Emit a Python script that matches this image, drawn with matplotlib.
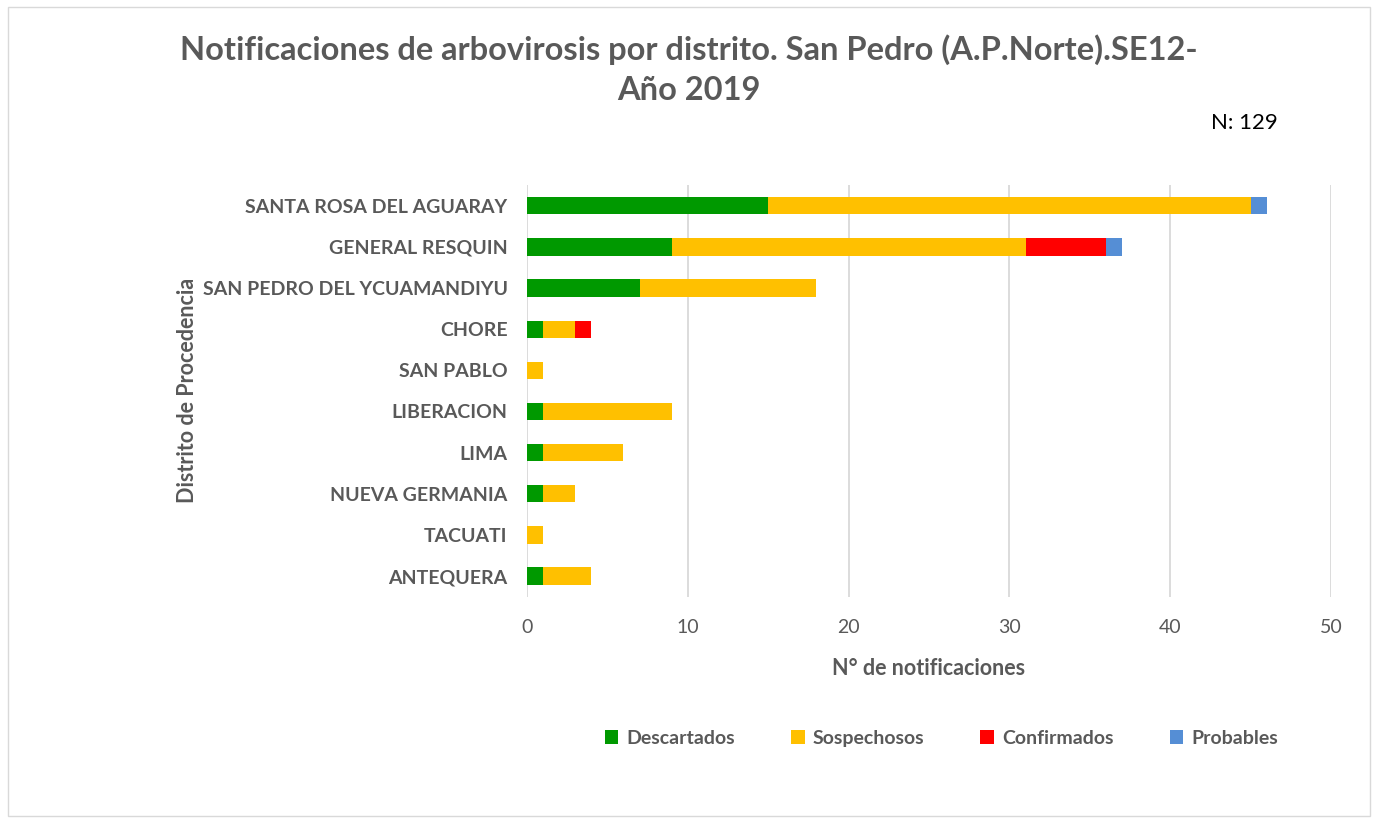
import matplotlib.pyplot as plt
from matplotlib.patches import Rectangle
import numpy as np

# Datos de notificaciones por distrito
distritos = ["SANTA ROSA DEL AGUARAY", "GENERAL RESQUIN", "SAN PEDRO DEL YCUAMANDIYU",
             "CHORE", "SAN PABLO", "LIBERACION", "LIMA", "NUEVA GERMANIA",
             "TACUATI", "ANTEQUERA"]
descartados = [15, 9, 7, 1, 0, 1, 1, 1, 0, 1]
sospechosos = [30, 22, 11, 2, 1, 8, 5, 2, 1, 3]
confirmados = [0, 5, 0, 1, 0, 0, 0, 0, 0, 0]
probables = [1, 1, 0, 0, 0, 0, 0, 0, 0, 0]

series = [("Descartados", descartados, "#009900"),
          ("Sospechosos", sospechosos, "#FFC000"),
          ("Confirmados", confirmados, "#FF0000"),
          ("Probables", probables, "#558ED5")]

plt.rcParams['font.family'] = ['Lato', 'DejaVu Sans']
gris = "#595959"

fig = plt.figure(figsize=(13.78, 8.23), dpi=100)
ax = fig.add_axes([0.3824, 0.275, 0.5836, 0.5])

y = np.arange(len(distritos))
left = np.zeros(len(distritos))
for nombre, vals, color in series:
    ax.barh(y, vals, left=left, height=0.42, color=color, label=nombre)
    left += np.array(vals)

ax.set_ylim(len(distritos) - 0.5, -0.5)
ax.set_xlim(0, 50)
ax.set_xticks(range(0, 51, 10))
ax.set_yticks(y)
ax.set_yticklabels(distritos, fontsize=14, fontweight='bold', color=gris)
ax.tick_params(axis='x', labelsize=14, colors=gris, length=0, pad=16)
ax.tick_params(axis='y', length=0, pad=14)
ax.grid(axis='x', color='#D9D9D9', linewidth=1.3)
ax.set_axisbelow(True)
for s in ax.spines.values():
    s.set_visible(False)

ax.set_xlabel("N° de notificaciones", fontsize=15.5, fontweight='bold', color=gris, labelpad=16)
ax.set_ylabel("Distrito de Procedencia", fontsize=15.5, fontweight='bold', color=gris, labelpad=3)

fig.text(0.50, 0.915, "Notificaciones de arbovirosis por distrito. San Pedro (A.P.Norte).SE12-\nAño 2019",
         ha='center', va='center', fontsize=23.5, fontweight='bold', color=gris, linespacing=1.45)
fig.text(0.903, 0.85, "N: 129", ha='center', va='center', fontsize=16, color='black')

fig.legend(loc='center', bbox_to_anchor=(0.683, 0.103), ncol=4, frameon=False,
           handlelength=0.7, handleheight=0.7, columnspacing=2.9,
           handletextpad=0.4, labelcolor=gris, prop={'weight': 'bold', 'size': 14})

fig.patches.append(Rectangle((0.006, 0.008), 0.988, 0.984, transform=fig.transFigure,
                             fill=False, edgecolor='#D9D9D9', linewidth=1))

fig.savefig("out.png", dpi=100)
